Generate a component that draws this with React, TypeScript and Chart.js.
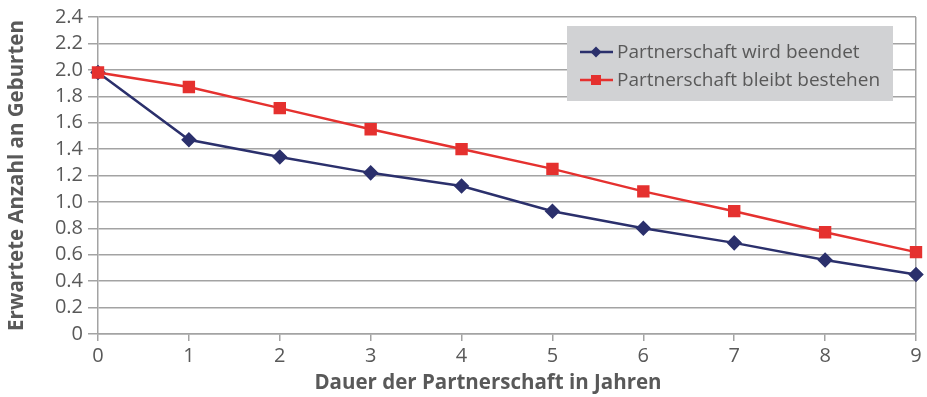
import React, { useEffect, useRef } from "react";
import { Chart, registerables } from "chart.js";

Chart.register(...registerables);

const years = ["0", "1", "2", "3", "4", "5", "6", "7", "8", "9"];
const endedValues = [1.98, 1.47, 1.34, 1.22, 1.12, 0.93, 0.80, 0.69, 0.56, 0.45];
const continuedValues = [1.98, 1.87, 1.71, 1.55, 1.40, 1.25, 1.08, 0.93, 0.77, 0.62];
const seriesLabels = ["Partnerschaft wird beendet", "Partnerschaft bleibt bestehen"];
const xTitle = "Dauer der Partnerschaft in Jahren";
const yTitle = "Erwartete Anzahl an Geburten";

const BLUE = "#2b306c";
const RED = "#e5312f";
const GRID = "#a3a3a3";
const TEXT = "#595959";
const FONT = "'Open Sans', sans-serif";

const legendPlugin = {
  id: "boxLegend",
  afterDatasetsDraw(chart: any) {
    const ctx = chart.ctx;
    const x = 567, y = 26, w = 326, h = 75;
    ctx.save();
    ctx.fillStyle = "#d1d2d4";
    ctx.fillRect(x, y, w, h);
    ctx.font = `19px ${FONT}`;
    ctx.textBaseline = "middle";
    chart.data.datasets.forEach((ds: any, i: number) => {
      const cy = y + 26 + i * 28;
      ctx.strokeStyle = ds.borderColor;
      ctx.lineWidth = 2.5;
      ctx.beginPath();
      ctx.moveTo(580, cy);
      ctx.lineTo(613, cy);
      ctx.stroke();
      ctx.fillStyle = ds.pointBackgroundColor;
      if (ds.pointStyle === "rect") {
        ctx.fillRect(591, cy - 5, 10, 10);
      } else {
        ctx.beginPath();
        ctx.moveTo(596, cy - 5.5);
        ctx.lineTo(601.5, cy);
        ctx.lineTo(596, cy + 5.5);
        ctx.lineTo(590.5, cy);
        ctx.closePath();
        ctx.fill();
      }
      ctx.fillStyle = TEXT;
      ctx.textAlign = "left";
      ctx.fillText(ds.label, 617, cy + 1);
    });
    ctx.restore();
  },
  afterDraw(chart: any) {
    const ctx = chart.ctx;
    ctx.save();
    ctx.font = `bold 20.5px ${FONT}`;
    ctx.fillStyle = TEXT;
    ctx.textAlign = "center";
    ctx.textBaseline = "middle";
    ctx.fillText(xTitle, 488, 383);
    ctx.restore();
  },
};

export default function App() {
  const ref = useRef<HTMLCanvasElement | null>(null);
  useEffect(() => {
    if (!ref.current) return;
    const chart = new Chart(ref.current, {
      type: "line",
      data: {
        labels: years,
        datasets: [
          {
            label: seriesLabels[0],
            data: endedValues,
            order: 1,
            borderColor: BLUE,
            backgroundColor: BLUE,
            pointBackgroundColor: BLUE,
            pointBorderColor: BLUE,
            pointStyle: "rectRot",
            pointRadius: 6,
            borderWidth: 2.5,
            tension: 0,
          },
          {
            label: seriesLabels[1],
            data: continuedValues,
            order: 0,
            borderColor: RED,
            backgroundColor: RED,
            pointBackgroundColor: RED,
            pointBorderColor: RED,
            pointStyle: "rect",
            pointRadius: 7,
            borderWidth: 2.5,
            tension: 0,
          },
        ],
      },
      options: {
        animation: false,
        responsive: false,
        maintainAspectRatio: false,
        layout: { padding: { left: 0, right: 11, top: 15, bottom: 0 } },
        plugins: {
          legend: { display: false },
          tooltip: { enabled: false },
        },
        scales: {
          x: {
            offset: false,
            afterFit: (s: any) => { s.height = 63; },
            grid: {
              color: (c: any) => (c.index === years.length - 1 ? GRID : "rgba(0,0,0,0)"),
              lineWidth: 1.5,
              tickColor: GRID,
              tickLength: 7,
              drawTicks: true,
            },
            border: { color: GRID, width: 1.5 },
            ticks: { color: TEXT, font: { family: FONT, size: 20 }, padding: 3, maxRotation: 0, autoSkip: false },
            title: { display: false, text: xTitle },
          },
          y: {
            min: 0,
            max: 2.4,
            afterFit: (s: any) => { s.width = 98; },
            grid: { color: GRID, lineWidth: 1.5, tickColor: GRID, tickLength: 10 },
            border: { color: GRID, width: 1.5 },
            ticks: {
              stepSize: 0.2,
              autoSkip: false,
              color: TEXT,
              font: { family: FONT, size: 20 },
              padding: 5,
              callback: (v: any) => (Number(v) === 0 ? "0" : Number(v).toFixed(1)),
            },
            title: {
              display: true,
              text: yTitle,
              color: TEXT,
              font: { family: FONT, size: 20.5, weight: "bold" },
              padding: { top: 5, bottom: 0 },
            },
          },
        },
      },
      plugins: [legendPlugin],
    });
    return () => chart.destroy();
  }, []);
  return (
    <div style={{ position: "fixed", left: 0, top: 0, width: 927, height: 397, background: "#fff" }}>
      <canvas ref={ref} width={927} height={397} style={{ width: 927, height: 397, display: "block" }} />
    </div>
  );
}
